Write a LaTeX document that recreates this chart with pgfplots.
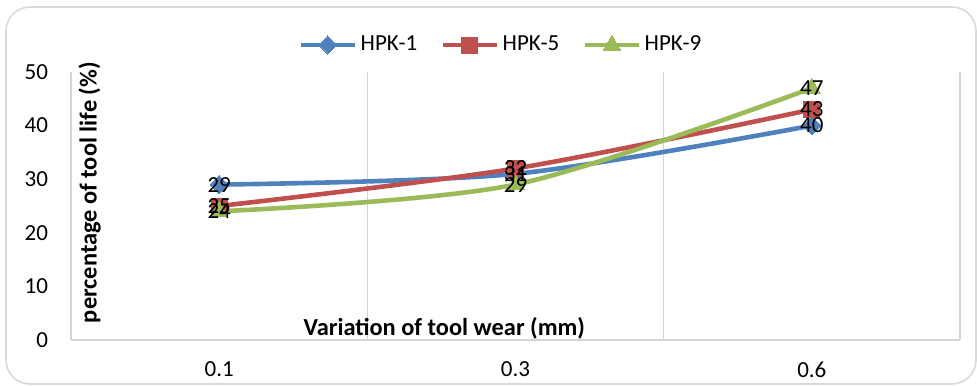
\documentclass[border=0pt]{standalone}
\usepackage{pgfplots}
\usepackage{pgfplotstable}
\pgfplotsset{compat=1.18}
\usepackage{fontspec}
\setmainfont{Carlito}
\definecolor{c1}{HTML}{4F81BD}
\definecolor{c5}{HTML}{C0504D}
\definecolor{c9}{HTML}{9BBB59}
\pgfplotstableread{
x h1 h5 h9
0 29 25 24
1 31 32 29
2 40 43 47
}\data
\begin{document}
\begin{tikzpicture}
\useasboundingbox (0,0) rectangle (488.5pt,192.5pt);
\draw[black!15, line width=0.8pt, rounded corners=12pt] (3pt,0.5pt) rectangle (488pt,189pt);
\begin{axis}[
 at={(35.5pt,22.5pt)}, anchor=south west,
 scale only axis, width=444.5pt, height=134pt,
 xmin=-0.5, xmax=2.5, ymin=0, ymax=50,
 xtick={0,1,2}, xticklabels={0.1,0.3,0.6},
 ytick={0,10,20,30,40,50},
 major tick length=0pt,
 axis line style={draw=none},
 extra x ticks={-0.5,0.5,1.5,2.5}, extra x tick labels={},
 extra x tick style={grid=major, major grid style={draw=black!17, line width=0.7pt}},
 /pgf/number format/assume math mode=true,
 ticklabel style={font=\fontsize{11.5}{13}\selectfont},
 xticklabel style={yshift=-7.5pt},
 yticklabel style={xshift=-8pt},
 ylabel={percentage of tool life (\%)},
 ylabel style={font=\fontsize{12.2}{14}\bfseries, at={(axis description cs:0.008,0.55)}, anchor=north, inner sep=0pt},
 xlabel={Variation of tool wear (mm)},
 xlabel style={font=\fontsize{12.2}{14}\bfseries, at={(axis description cs:0.42,0.015)}, anchor=base, inner sep=0pt},
 legend style={at={(0.485,1)}, anchor=center, yshift=13.5pt, draw=none, legend columns=3,
   font=\fontsize{11.5}{13}\selectfont, /tikz/every even column/.append style={column sep=10pt},
   /tikz/every odd column/.append style={column sep=0pt}},
 legend image code/.code={\draw[#1, mark repeat=2, mark phase=2] plot coordinates {(0cm,0cm) (0.465cm,0cm) (0.93cm,0cm)};},
 every axis plot/.append style={line width=2.3pt, smooth, tension=0.5},
]
\addplot[c1, mark=square*, mark size=3.2pt, mark options={rotate=45, line width=0pt, fill=c1}] table[x=x,y=h1]{\data};
\addlegendentry{HPK-1}
\addplot[c5, mark=square*, mark size=4pt, mark options={line width=0pt, fill=c5}] table[x=x,y=h5]{\data};
\addlegendentry{HPK-5}
\addplot[c9, mark=triangle*, mark size=5pt, mark options={line width=0pt, fill=c9}] table[x=x,y=h9]{\data};
\addlegendentry{HPK-9}
\pgfplotsset{lbl/.style={draw=none, mark=none, forget plot, nodes near coords,
  every node near coord/.append style={anchor=center, inner sep=0pt, text=black, font=\fontsize{11.5}{13}\selectfont}}}
\addplot[lbl] table[x=x,y=h1]{\data};
\addplot[lbl] table[x=x,y=h5]{\data};
\addplot[lbl] table[x=x,y=h9]{\data};
\draw[black!17, line width=0.7pt] (axis cs:-0.5,0) -- (axis cs:2.5,0);
\end{axis}
\end{tikzpicture}
\end{document}
